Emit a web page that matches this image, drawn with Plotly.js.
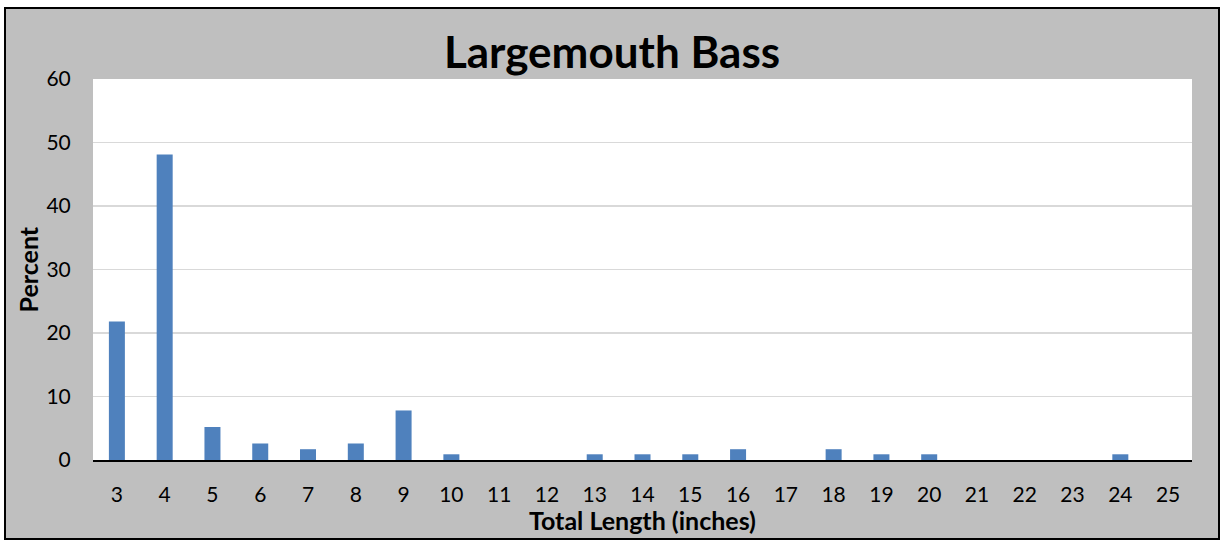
<!DOCTYPE html>
<html>
<head>
<meta charset="utf-8">
<script src="https://cdn.plot.ly/plotly-3.0.1.min.js"></script>
<style>
  html, body { margin: 0; padding: 0; background: #ffffff; width: 1225px; height: 542px; overflow: hidden; }
  #frame { position: absolute; left: 4px; top: 7px; width: 1212px; height: 529px; border: 2px solid #000; background: #bfbfbf; }
  #chart { width: 1212px; height: 529px; }
</style>
</head>
<body>
<div id="frame"><div id="chart"></div></div>
<script>
const lengths = ["3","4","5","6","7","8","9","10","11","12","13","14","15","16","17","18","19","20","21","22","23","24","25"];
const percent = [21.8, 48.1, 5.2, 2.6, 1.7, 2.6, 7.8, 0.9, 0, 0, 0.9, 0.9, 0.9, 1.7, 0, 1.7, 0.9, 0.9, 0, 0, 0, 0.9, 0];
const titleText = "Largemouth Bass";
const xTitle = "Total Length (inches)";
const yTitle = "Percent";

const FONT = "Lato, 'Open Sans', 'Noto Sans', sans-serif";

const trace = {
  type: "bar",
  x: lengths,
  y: percent,
  marker: { color: "#4f81bd", line: { width: 0 } },
  hoverinfo: "x+y"
};

const layout = {
  width: 1212,
  height: 529,
  margin: { l: 87, r: 26, t: 70, b: 78, pad: 0 },
  paper_bgcolor: "#bfbfbf",
  plot_bgcolor: "#ffffff",
  font: { family: FONT, color: "#000000", size: 21 },
  showlegend: false,
  bargap: 0.665,
  title: {
    text: "<b>" + titleText + "</b>",
    font: { family: FONT, size: 44, color: "#000000" },
    x: 0.5, xanchor: "center",
    xref: "container", yref: "container",
    y: 1 - 44 / 529, yanchor: "middle"
  },
  xaxis: {
    type: "category",
    showgrid: false,
    showline: true,
    linecolor: "#000000",
    linewidth: 2,
    ticks: "outside",
    ticklen: 15,
    tickcolor: "rgba(0,0,0,0)",
    tickfont: { family: FONT, size: 21, color: "#000000" },
    fixedrange: true
  },
  yaxis: {
    range: [0, 60],
    dtick: 10,
    showgrid: true,
    gridcolor: "#d9d9d9",
    gridwidth: 1.5,
    zeroline: false,
    showline: false,
    ticks: "outside",
    ticklen: 17,
    tickcolor: "rgba(0,0,0,0)",
    tickfont: { family: FONT, size: 21, color: "#000000" },
    fixedrange: true
  },
  annotations: [
    {
      text: "<b>" + xTitle + "</b>",
      xref: "paper", yref: "paper",
      x: 0.5, y: 0,
      xanchor: "center", yanchor: "middle",
      yshift: -60,
      showarrow: false,
      font: { family: FONT, size: 25, color: "#000000" }
    },
    {
      text: "<b>" + yTitle + "</b>",
      xref: "paper", yref: "paper",
      x: 0, y: 0.5,
      xanchor: "center", yanchor: "middle",
      xshift: -66,
      textangle: -90,
      showarrow: false,
      font: { family: FONT, size: 25, color: "#000000" }
    }
  ]
};

Plotly.newPlot("chart", [trace], layout, { displayModeBar: false, staticPlot: true });
</script>
</body>
</html>
